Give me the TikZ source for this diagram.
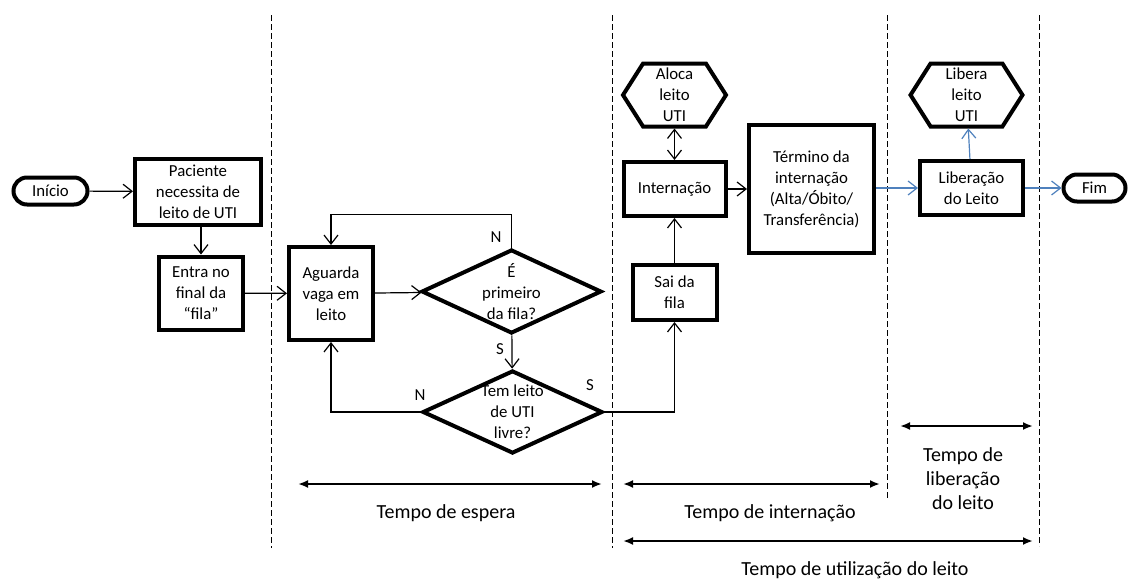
\documentclass[tikz,border=0pt]{standalone}
\usepackage{fontspec}
\setmainfont{Carlito}
\usetikzlibrary{shapes.geometric,shapes.symbols,arrows.meta}

\definecolor{flowblue}{RGB}{79,129,189}
\newcommand{\boxfont}{\fontsize{16.8}{21}\selectfont}
\newcommand{\tempofont}{\fontsize{20}{24}\selectfont}

\tikzset{
  process/.style={draw, line width=4pt, align=center, inner sep=1pt, font=\boxfont},
  terminal/.style={process, rounded corners=13.5pt},
  decision/.style={draw, diamond, line width=4pt, inner sep=0pt},
  prep/.style={draw, signal, signal to=west and east, signal pointer angle=115,
    line width=4pt, inner sep=0pt},
  inside/.style={align=center, font=\boxfont},
  flow/.style={line width=1.2pt, -{Straight Barb[length=9pt,width=14pt]}},
  blueflow/.style={flow, draw=flowblue},
  period/.style={line width=2pt, {Latex[length=10pt,width=8pt]}-{Latex[length=10pt,width=8pt]}},
  divider/.style={line width=1pt, dash pattern=on 6pt off 3pt},
  tag/.style={font=\boxfont},
  tempo/.style={align=center, font=\tempofont}
}

\begin{document}
\begin{tikzpicture}[x=1pt, y=-1pt]
    \useasboundingbox (0,0) rectangle (1130,579);

    % Phase dividers
    \draw[divider] (271,15) -- (271,548);
    \draw[divider] (612,15) -- (612,548);
    \draw[divider] (887,15) -- (887,500);
    \draw[divider] (1039,15) -- (1039,546);

    % Queue
    \node[terminal, minimum width=74pt, minimum height=27pt] (inicio) at (50.5,191) {Início};
    \node[process, minimum width=126pt, minimum height=66pt] (paciente) at (198,191.5) {Paciente\\necessita de\\leito de UTI};
    \node[process, minimum width=84pt, minimum height=73pt] (entra) at (201,293) {Entra no\\final da\\“fila”};
    \node[process, minimum width=84pt, minimum height=93pt] (aguarda) at (331,293.5) {Aguarda\\vaga em\\leito};
    \node[decision, minimum width=180pt, minimum height=84pt,
      label={[inside]center:É\\primeiro\\da fila?}] (primeiro) at (511.5,291.5) {};
    \node[decision, minimum width=180pt, minimum height=83pt,
      label={[inside]center:Tem leito\\de UTI\\livre?}] (livre) at (512.5,412) {};

    % Stay
    \node[process, minimum width=84pt, minimum height=55pt] (sai) at (674.5,292.5) {Sai da\\fila};
    \node[process, minimum width=102pt, minimum height=54pt] (internacao) at (674.5,189) {Internação};
    \node[prep, minimum width=103pt, minimum height=63pt,
      label={[inside]center:Aloca\\leito\\UTI}] (aloca) at (674.5,95) {};
    \node[process, minimum width=125pt, minimum height=128pt] (termino) at (811.5,189) {Término da\\internação\\(Alta/Óbito/\\Transferência)};

    % Release
    \node[process, minimum width=103pt, minimum height=54pt] (liberacao) at (971.5,188) {Liberação\\do Leito};
    \node[prep, minimum width=112pt, minimum height=63pt,
      label={[inside]center:Libera\\leito\\UTI}] (libera) at (966.5,95) {};
    \node[terminal, minimum width=62pt, minimum height=27pt] (fim) at (1094.5,188) {Fim};

    % Flow
    \draw[flow] (inicio) -- (paciente);
    \draw[flow] (paciente.south -| entra.north) -- (entra.north);
    \draw[flow] (entra) -- (aguarda);
    \draw[flow] (aguarda) -- (primeiro);
    \draw[flow] (primeiro.north) -- ++(0,-33) -| (aguarda.north);
    \draw[flow] (primeiro) -- (livre);
    \draw[flow] (livre.west) -| (aguarda.south);
    \draw[flow] (livre.east) -| (sai.south);
    \draw[flow] (sai) -- (internacao);
    \draw[flow, {Straight Barb[length=9pt,width=14pt]}-{Straight Barb[length=9pt,width=14pt]}] (aloca) -- (internacao);
    \draw[flow] (internacao) -- (termino);
    \draw[blueflow] (termino.east |- liberacao.west) -- (liberacao.west);
    \draw[blueflow] (liberacao) -- (libera);
    \draw[blueflow] (liberacao) -- (fim);

    % Answers
    \node[tag] (n1) at (496,237) {N};
    \node[tag] (s1) at (500,349) {S};
    \node[tag] (n2) at (420,395) {N};
    \node[tag] (s2) at (590,385) {S};

    % Time spans
    \coordinate (esperaA) at (298,484);
    \coordinate (esperaB) at (602,484);
    \coordinate (internA) at (623,484);
    \coordinate (internB) at (880,484);
    \coordinate (liberA) at (900,426);
    \coordinate (liberB) at (1033,426);
    \coordinate (utilA) at (623,541);
    \coordinate (utilB) at (1033,541);
    \draw[period] (esperaA) -- (esperaB);
    \draw[period] (internA) -- (internB);
    \draw[period] (liberA) -- (liberB);
    \draw[period] (utilA) -- (utilB);
    \node[tempo] (espera) at (446,513) {Tempo de espera};
    \node[tempo] (internacaoT) at (770,513) {Tempo de internação};
    \node[tempo] (liberacaoT) at (963,479) {Tempo de\\liberação\\do leito};
    \node[tempo] (utilizacao) at (855,570) {Tempo de utilização do leito};
\end{tikzpicture}
\end{document}
